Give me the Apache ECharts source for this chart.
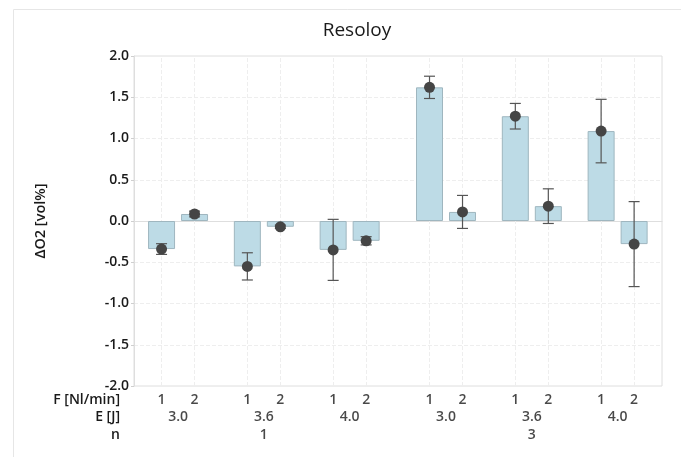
<!DOCTYPE html>
<html>
<head>
<meta charset="utf-8">
<script src="https://cdn.jsdelivr.net/npm/echarts@6/dist/echarts.min.js"></script>
<style>
html,body{margin:0;padding:0;background:#fff;}
#chart{width:681px;height:457px;}
</style>
</head>
<body>
<div id="chart"></div>
<script>
// ---- data ----
var titleText = 'Resoloy';
var yAxisName = 'ΔO2 [vol%]';
var rowTitles = ['F [Nl/min]', 'E [J]', 'n'];
var nLevels = ['1', '3'];
var eLevels = ['3.0', '3.6', '4.0'];
var fLevels = ['1', '2'];
// order: n -> E -> F
var means = [-0.34, 0.085, -0.55, -0.07, -0.35, -0.24, 1.62, 0.11, 1.27, 0.18, 1.09, -0.28];
var errs  = [0.065, 0.035, 0.165, 0.02, 0.37, 0.05, 0.135, 0.20, 0.155, 0.21, 0.385, 0.515];
var yTicks = [-2.0, -1.5, -1.0, -0.5, 0.0, 0.5, 1.0, 1.5, 2.0];

// ---- layout (axis units) ----
var PAD = 0.835, FSTEP = 1, ESTEP = 2.6, NSTEP = 8.12, XMAX = 16;

var xs = [], barData = [], dotData = [], errData = [], fLab = [], eLab = [], nLab = [];
var idx = 0;
nLevels.forEach(function (n, gi) {
  eLevels.forEach(function (e, ei) {
    fLevels.forEach(function (f, fi) {
      var x = PAD + gi * NSTEP + ei * ESTEP + fi * FSTEP;
      xs.push(x);
      barData.push([x, means[idx]]);
      dotData.push([x, means[idx]]);
      errData.push([x, means[idx] - errs[idx], means[idx] + errs[idx]]);
      fLab.push([x, rowTitles[0], f]);
      idx++;
    });
    eLab.push([PAD + gi * NSTEP + ei * ESTEP + FSTEP / 2, rowTitles[1], e]);
  });
  nLab.push([PAD + gi * NSTEP + 1 * ESTEP + FSTEP / 2, rowTitles[2], n]);
});

var FONT = '"Open Sans", "Noto Sans", sans-serif';
var chart = echarts.init(document.getElementById('chart'), null, {renderer: 'canvas'});

var option = {
  backgroundColor: '#fff',
  animation: false,
  graphic: [{
    type: 'rect', left: 11, top: 7, silent: true, z: -10,
    shape: {width: 720, height: 500},
    style: {fill: 'none', stroke: '#e6e6e6', lineWidth: 1}
  }],
  title: {
    text: titleText, left: 352, top: 16, textAlign: 'center',
    textStyle: {fontFamily: FONT, fontSize: 19, fontWeight: 500, color: '#1a1a1a'}
  },
  grid: [
    {left: 134, right: 19, top: 56, bottom: 71, show: true, borderColor: '#dedede', borderWidth: 1, containLabel: false},
    {left: 134, right: 19, top: 391, height: 53, show: false, containLabel: false}
  ],
  xAxis: [
    {type: 'value', gridIndex: 0, min: 0, max: XMAX,
     axisLine: {show: true, lineStyle: {color: '#dedede'}},
     axisTick: {show: false}, axisLabel: {show: false}, splitLine: {show: false}},
    {type: 'value', gridIndex: 1, min: 0, max: XMAX,
     axisLine: {show: false}, axisTick: {show: false}, axisLabel: {show: false}, splitLine: {show: false}}
  ],
  yAxis: [
    {type: 'value', gridIndex: 0, min: -2, max: 2, interval: 0.5,
     name: yAxisName, nameLocation: 'middle', nameGap: 86, nameRotate: 90,
     nameTextStyle: {fontFamily: FONT, fontSize: 14.5, fontWeight: 600, color: '#1a1a1a'},
     axisLine: {show: true, lineStyle: {color: '#dedede'}},
     axisTick: {show: true, length: 3, lineStyle: {color: '#cfcfcf'}},
     axisLabel: {margin: 5, fontFamily: FONT, fontSize: 14, fontWeight: 600, color: '#1a1a1a',
       formatter: function (v) { return v.toFixed(1); }},
     splitLine: {show: true, lineStyle: {color: '#eeeeee', type: 'dashed'}}},
    {type: 'category', gridIndex: 1, inverse: true, data: rowTitles,
     axisLine: {show: false}, axisTick: {show: false}, splitLine: {show: false},
     axisLabel: {interval: 0, hideOverlap: false, margin: 14, fontFamily: FONT, fontSize: 14, fontWeight: 600, color: '#1a1a1a'}}
  ],
  series: [
    {
      type: 'bar', xAxisIndex: 0, yAxisIndex: 0, barWidth: 27, z: 2,
      data: barData,
      itemStyle: {color: '#bddbe6', borderColor: '#9fb6bf', borderWidth: 1},
      markLine: {
        silent: true, symbol: 'none', label: {show: false}, z: 1,
        lineStyle: {color: '#eeeeee', type: 'dashed', width: 1},
        data: xs.map(function (x) { return {xAxis: x}; })
      }
    },
    {
      type: 'custom', xAxisIndex: 0, yAxisIndex: 0, z: 3,
      data: errData,
      renderItem: function (params, api) {
        var x = api.value(0);
        var lo = api.coord([x, api.value(1)]);
        var hi = api.coord([x, api.value(2)]);
        var hw = 5.5;
        var st = {stroke: '#555', lineWidth: 1.2};
        return {type: 'group', children: [
          {type: 'line', shape: {x1: lo[0], y1: lo[1], x2: hi[0], y2: hi[1]}, style: st},
          {type: 'line', shape: {x1: lo[0] - hw, y1: lo[1], x2: lo[0] + hw, y2: lo[1]}, style: st},
          {type: 'line', shape: {x1: hi[0] - hw, y1: hi[1], x2: hi[0] + hw, y2: hi[1]}, style: st}
        ]};
      }
    },
    {
      type: 'scatter', xAxisIndex: 0, yAxisIndex: 0, z: 4,
      symbol: 'circle', symbolSize: 11,
      itemStyle: {color: '#454545', opacity: 1},
      data: dotData
    },
    {
      type: 'scatter', xAxisIndex: 1, yAxisIndex: 1, symbolSize: 1,
      itemStyle: {color: 'rgba(0,0,0,0)'}, silent: true,
      label: {show: true, position: 'inside', formatter: function (p) { return p.value[2]; },
        fontFamily: FONT, fontSize: 14, fontWeight: 600, color: '#1a1a1a'},
      data: fLab.concat(eLab).concat(nLab)
    }
  ]
};
chart.setOption(option);
</script>
</body>
</html>
